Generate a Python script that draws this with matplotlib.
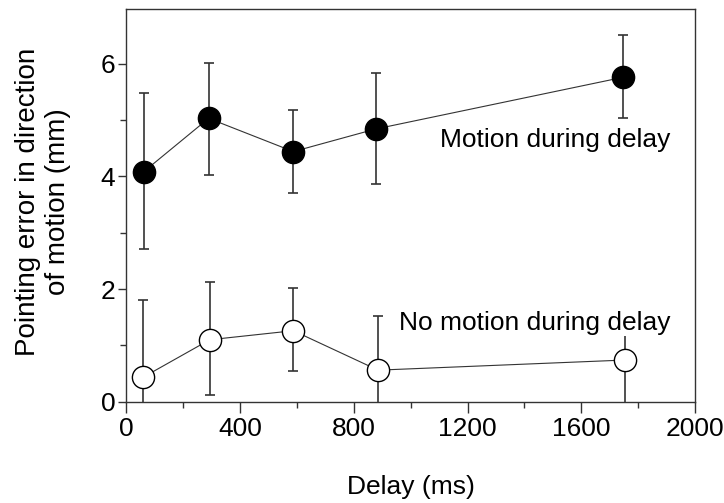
import matplotlib
matplotlib.use("Agg")
import matplotlib.pyplot as plt
from matplotlib.ticker import MultipleLocator

plt.rcParams['font.family'] = ['Liberation Sans', 'DejaVu Sans']

delay_motion = [60, 289, 587, 876, 1748]
err_motion = [4.08, 5.03, 4.44, 4.84, 5.76]
lo_motion = [2.71, 4.02, 3.70, 3.86, 5.04]
hi_motion = [5.48, 6.02, 5.17, 5.84, 6.51]

delay_nomotion = [57, 293, 587, 885, 1755]
err_nomotion = [0.43, 1.10, 1.26, 0.56, 0.74]
lo_nomotion = [-0.94, 0.11, 0.55, -0.41, -0.05]
hi_nomotion = [1.80, 2.12, 2.01, 1.53, 1.53]

xticks = [0, 400, 800, 1200, 1600, 2000]
yticks = [0, 2, 4, 6]

FS = 19

fig = plt.figure(figsize=(7.24, 5.03), dpi=100)
ax = fig.add_axes([0.1747, 0.2014, 0.7853, 0.7806])

def draw(x, y, lo, hi, face):
    yerr = [[yy - l for yy, l in zip(y, lo)], [h - yy for yy, h in zip(y, hi)]]
    ax.errorbar(x, y, yerr=yerr, fmt='none', ecolor='#333333', elinewidth=1.2,
                capsize=3.5, capthick=1.2, zorder=2)
    ax.plot(x, y, '-', color='#333333', lw=0.8, zorder=3)
    ax.plot(x, y, 'o', ms=16, mfc=face, mec='black', mew=1.0, zorder=4)

draw(delay_motion, err_motion, lo_motion, hi_motion, 'black')
draw(delay_nomotion, err_nomotion, lo_nomotion, hi_nomotion, 'white')

ax.text(1912, 4.65, 'Motion during delay', ha='right', va='center', fontsize=FS,
        zorder=5)
ax.text(1912, 1.40, 'No motion during delay', ha='right', va='center', fontsize=FS,
        zorder=5, bbox=dict(facecolor='white', edgecolor='none', pad=0.5))

ax.set_xlim(0, 2000)
ax.set_ylim(0, 6.97)
ax.set_xticks(xticks)
ax.set_yticks(yticks)
ax.xaxis.set_minor_locator(MultipleLocator(200))
ax.yaxis.set_minor_locator(MultipleLocator(1))
ax.tick_params(which='both', direction='out', top=False, right=False, labelsize=FS,
               color='#333333')
ax.tick_params(axis='x', which='major', length=8, width=1, pad=3)
ax.tick_params(axis='y', which='major', length=6, width=1, pad=2)
ax.tick_params(which='minor', length=4, width=1)
for s in ax.spines.values():
    s.set_color('#333333')
    s.set_linewidth(1.0)

ax.set_xlabel('Delay (ms)', fontsize=FS)
ax.xaxis.set_label_coords(0.5, -0.187)
ax.set_ylabel('Pointing error in direction\nof motion (mm)', fontsize=20,
              linespacing=1.2)
ax.yaxis.set_label_coords(-0.097, 0.51)

fig.savefig('out.png', dpi=100)
